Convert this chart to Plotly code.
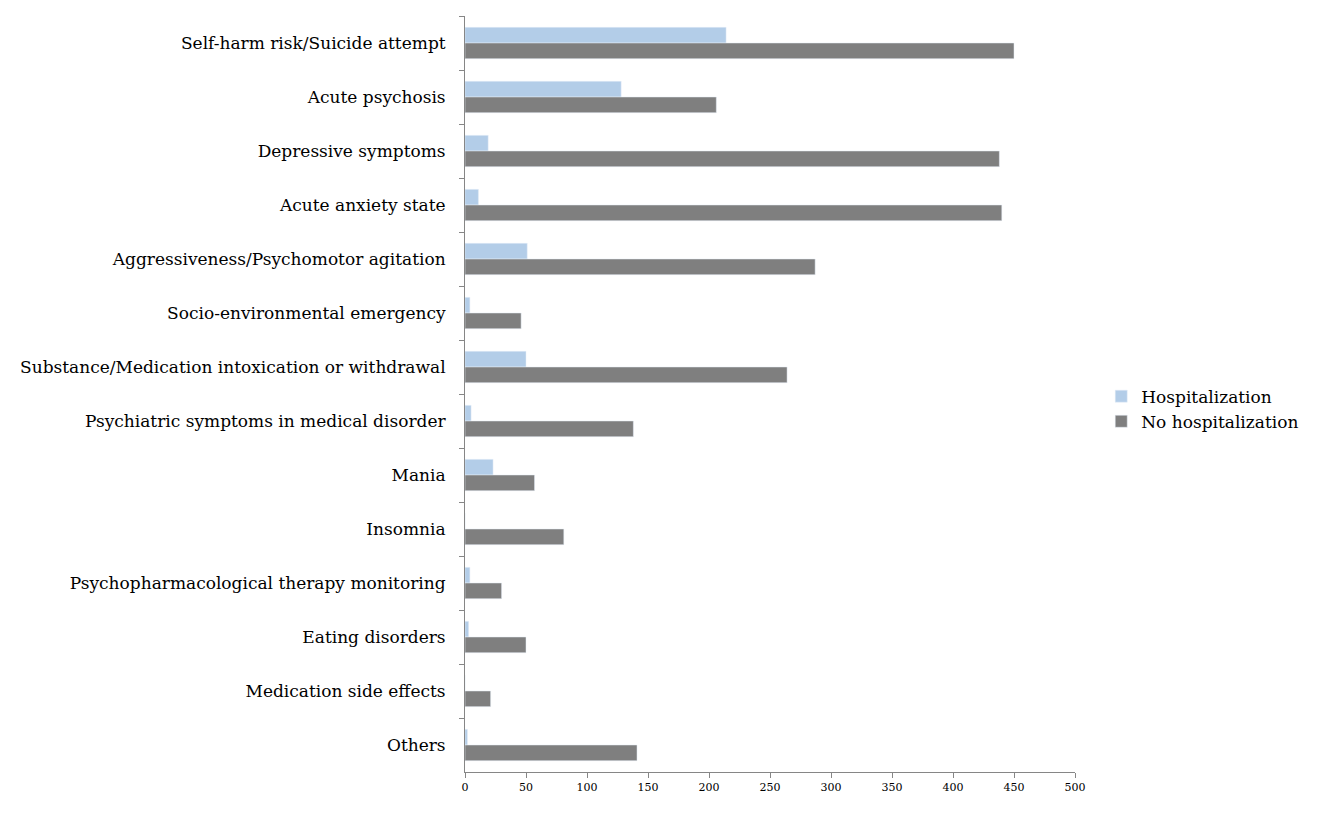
import plotly.graph_objects as go

# categories, top to bottom
categories = [
    'Self-harm risk/Suicide attempt',
    'Acute psychosis',
    'Depressive symptoms',
    'Acute anxiety state',
    'Aggressiveness/Psychomotor agitation',
    'Socio-environmental emergency',
    'Substance/Medication intoxication or withdrawal',
    'Psychiatric symptoms in medical disorder',
    'Mania',
    'Insomnia',
    'Psychopharmacological therapy monitoring',
    'Eating disorders',
    'Medication side effects',
    'Others',
]

hospitalization = [214, 128, 19, 11, 51, 4, 50, 5, 23, 0, 4, 3, 0, 2]
no_hospitalization = [450, 206, 438, 440, 287, 46, 264, 138, 57, 81, 30, 50, 21, 141]

x_ticks = [0, 50, 100, 150, 200, 250, 300, 350, 400, 450, 500]

serif = 'DejaVu Serif'

fig = go.Figure()

fig.add_trace(go.Bar(
    y=categories,
    x=hospitalization,
    orientation='h',
    name='Hospitalization',
    marker_color='#b3cde8',
))

fig.add_trace(go.Bar(
    y=categories,
    x=no_hospitalization,
    orientation='h',
    name='No hospitalization',
    marker_color='#7f7f7f',
))

fig.update_layout(
    width=1322,
    height=814,
    barmode='group',
    bargap=0.42,
    bargroupgap=0,
    plot_bgcolor='white',
    paper_bgcolor='white',
    margin=dict(l=457, r=255, t=8, b=50),
    font=dict(family=serif, color='#000000'),
    legend=dict(
        x=1.043, y=0.48, xanchor='left', yanchor='middle',
        font=dict(family=serif, size=17),
        traceorder='normal',
        itemwidth=30,
    ),
    xaxis=dict(
        range=[0, 500],
        tickvals=x_ticks,
        showgrid=False,
        zeroline=False,
        showline=True,
        linecolor='#868686',
        ticks='outside',
        ticklen=5,
        tickcolor='#868686',
        tickfont=dict(size=11),
        automargin=False,
    ),
    yaxis=dict(
        autorange='reversed',
        showgrid=False,
        showline=True,
        linecolor='#868686',
        ticks='outside',
        tickson='boundaries',
        ticklen=5,
        tickcolor='#868686',
        tickfont=dict(size=17),
        ticklabelstandoff=15,
        automargin=False,
    ),
)

fig.write_html('out.html')
